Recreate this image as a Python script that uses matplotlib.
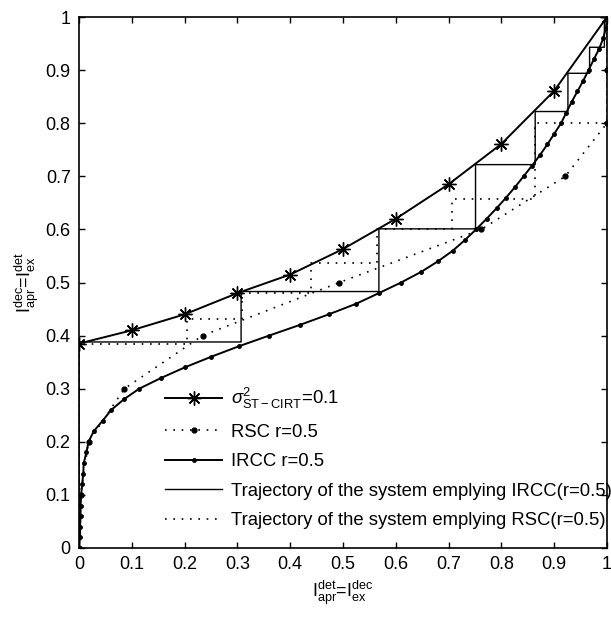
import matplotlib

matplotlib.use("Agg")
import matplotlib.pyplot as plt

plt.rcParams["font.family"] = ["Liberation Sans", "DejaVu Sans"]
plt.rcParams["mathtext.fontset"] = "custom"
plt.rcParams["mathtext.rm"] = "Liberation Sans"
plt.rcParams["mathtext.it"] = "Liberation Sans:italic"
plt.rcParams["mathtext.bf"] = "Liberation Sans:bold"

# detector EXIT curve, sigma^2 = 0.1
det_x = [0.0, 0.1, 0.2, 0.3, 0.4, 0.5, 0.6, 0.7, 0.8, 0.9, 1.0]
det_y = [0.385, 0.41, 0.44, 0.48, 0.515, 0.563, 0.62, 0.685, 0.761, 0.861, 1.0]

# RSC decoder curve (inverted axes: x = extrinsic, y = a priori)
rsc_x = [0.0, 0.003, 0.018, 0.086, 0.234, 0.493, 0.762, 0.921, 1.0, 1.0, 1.0]
rsc_y = [0.0, 0.1, 0.2, 0.3, 0.4, 0.5, 0.6, 0.7, 0.8, 0.9, 1.0]

# IRCC decoder curve
ircc_x = [0.0, 0.002, 0.002, 0.003, 0.003, 0.004, 0.006, 0.008, 0.009, 0.014,
          0.018, 0.028, 0.045, 0.061, 0.085, 0.114, 0.155, 0.2, 0.25, 0.303,
          0.36, 0.418, 0.473, 0.525, 0.568, 0.61, 0.648, 0.68, 0.708, 0.731,
          0.752, 0.772, 0.791, 0.809, 0.826, 0.842, 0.858, 0.873, 0.887, 0.9,
          0.913, 0.923, 0.933, 0.944, 0.955, 0.965, 0.975, 0.985, 0.993, 0.998, 1.0]
ircc_y = [0.0, 0.02, 0.04, 0.06, 0.08, 0.1, 0.12, 0.14, 0.16, 0.18,
          0.2, 0.22, 0.24, 0.26, 0.28, 0.3, 0.32, 0.34, 0.36, 0.38,
          0.4, 0.42, 0.44, 0.46, 0.48, 0.5, 0.52, 0.54, 0.56, 0.58,
          0.6, 0.62, 0.64, 0.66, 0.68, 0.7, 0.72, 0.74, 0.76, 0.78,
          0.8, 0.82, 0.84, 0.86, 0.88, 0.9, 0.92, 0.94, 0.96, 0.98, 1.0]

# decoding trajectories
traj_ircc_x = [0, 0, 0.307, 0.307, 0.568, 0.568, 0.751, 0.751, 0.864, 0.864,
               0.926, 0.926, 0.967, 0.967, 0.995, 0.995, 1.0]
traj_ircc_y = [0, 0.388, 0.388, 0.483, 0.483, 0.601, 0.601, 0.722, 0.722, 0.822,
               0.822, 0.894, 0.894, 0.943, 0.943, 0.988, 1.0]

traj_rsc_x = [0, 0, 0.204, 0.204, 0.309, 0.309, 0.44, 0.44, 0.565, 0.565,
              0.706, 0.706, 0.864, 0.864, 1.0, 1.0]
traj_rsc_y = [0, 0.385, 0.385, 0.432, 0.432, 0.48, 0.48, 0.536, 0.536, 0.60,
              0.60, 0.657, 0.657, 0.80, 0.80, 1.0]

ticks = [0, 0.1, 0.2, 0.3, 0.4, 0.5, 0.6, 0.7, 0.8, 0.9, 1]
tick_labels = ["0", "0.1", "0.2", "0.3", "0.4", "0.5", "0.6", "0.7", "0.8", "0.9", "1"]

DOT = (0, (1, 4))

fig = plt.figure(figsize=(6.11, 6.18), dpi=100)
ax = fig.add_axes([79 / 611, 70 / 618, 528 / 611, 531 / 618])

ax.plot(det_x, det_y, color="black", lw=1.4, marker=(8, 2, 0), ms=10, mew=1.0,
        label=r"$\sigma^2_{\mathrm{ST-CIRT}}$=0.1", zorder=5)
ax.plot(rsc_x, rsc_y, color="black", lw=1.2, ls=DOT, marker=".", ms=7,
        label="RSC r=0.5", zorder=4)
ax.plot(ircc_x, ircc_y, color="black", lw=1.4, marker=".", ms=5,
        label="IRCC r=0.5", zorder=5)
ax.plot(traj_ircc_x, traj_ircc_y, color="black", lw=1.0,
        label="Trajectory of the system emplying IRCC(r=0.5)", zorder=3)
ax.plot(traj_rsc_x, traj_rsc_y, color="black", lw=1.2, ls=DOT,
        label="Trajectory of the system emplying RSC(r=0.5)", zorder=3)

ax.set_xlim(0, 1)
ax.set_ylim(0, 1)
ax.set_xticks(ticks)
ax.set_xticklabels(tick_labels)
ax.set_yticks(ticks)
ax.set_yticklabels(tick_labels)
ax.tick_params(direction="in", top=True, right=True, length=4, width=1,
               labelsize=13, pad=6)
for s in ax.spines.values():
    s.set_linewidth(1.2)

ax.set_xlabel(r"$\mathrm{I^{det}_{apr}}$=$\mathrm{I^{dec}_{ex}}$", fontsize=13, labelpad=4)
ax.set_ylabel(r"$\mathrm{I^{dec}_{apr}}$=$\mathrm{I^{det}_{ex}}$", fontsize=13, labelpad=3)

ax.legend(loc="lower left", bbox_to_anchor=(0.163, 0.035), frameon=False,
          fontsize=13.3, handlelength=3.1, handletextpad=0.45, labelspacing=0.68,
          borderpad=0, borderaxespad=0, numpoints=1)

fig.savefig("out.png", dpi=100)
